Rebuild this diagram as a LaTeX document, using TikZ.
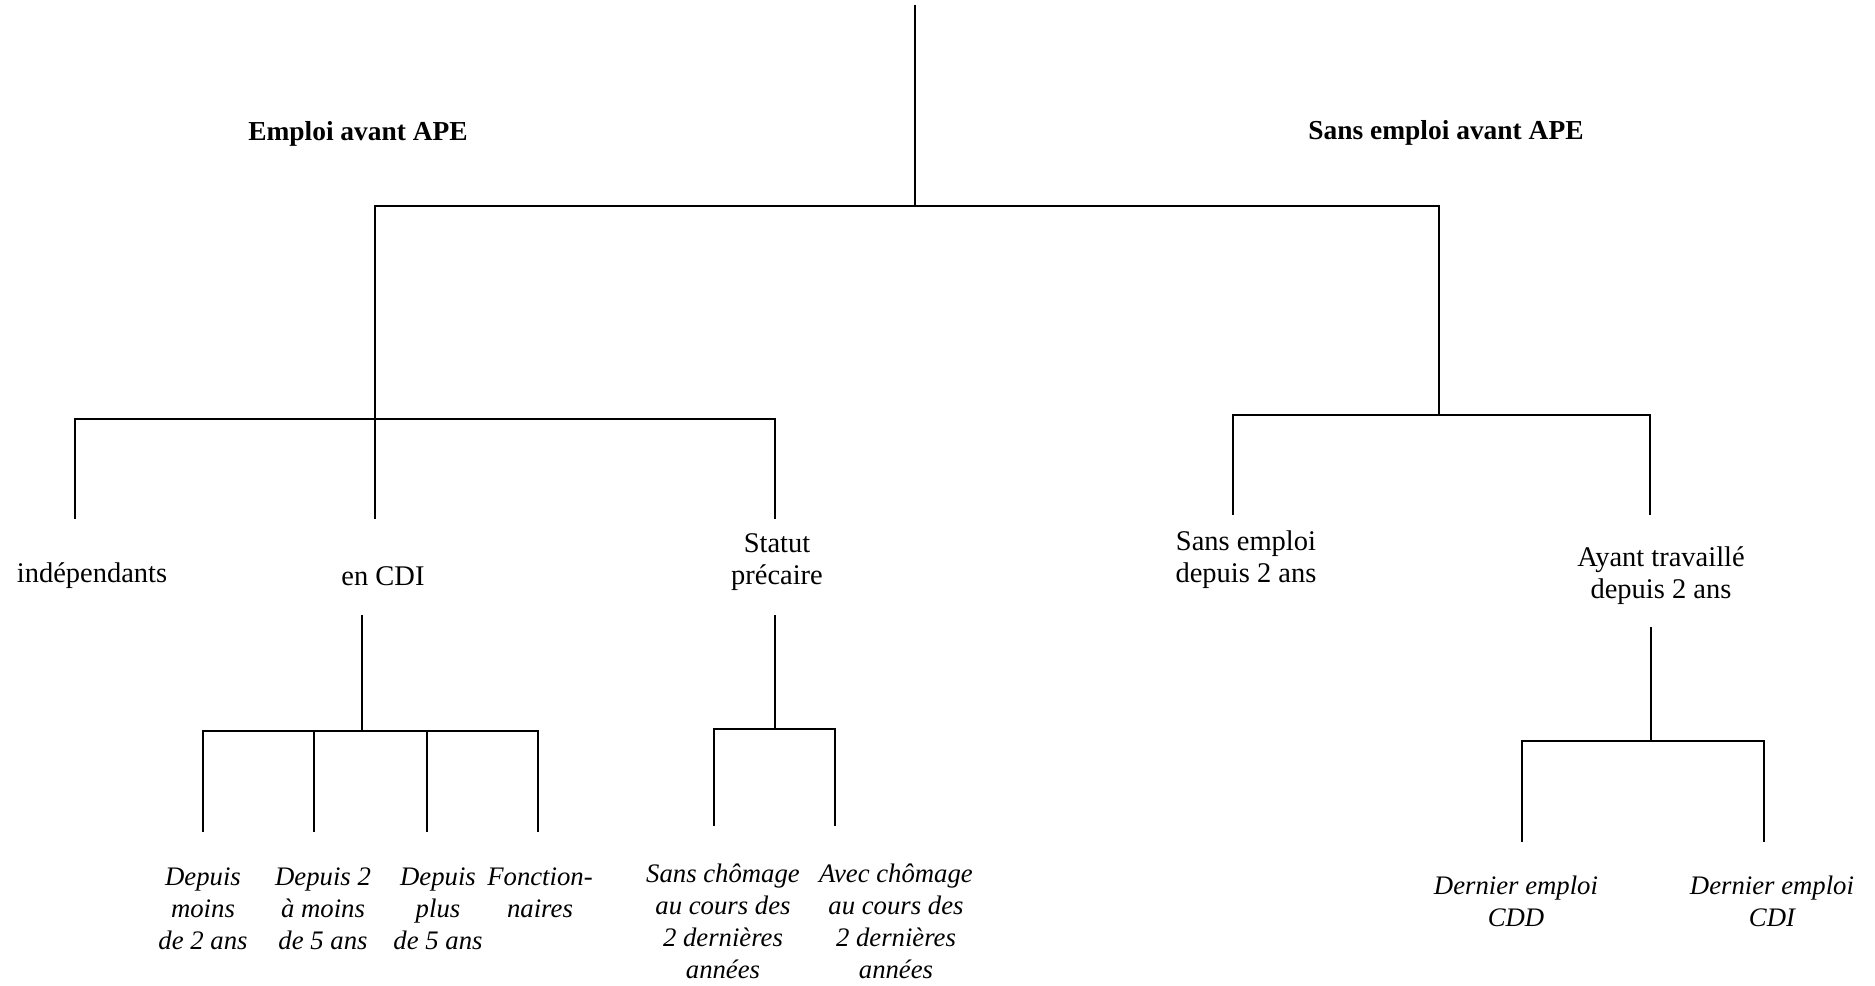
\documentclass[tikz,border=0pt]{standalone}
\usepackage{fontspec}
\setmainfont{Liberation Serif}
\begin{document}
\begin{tikzpicture}[x=0.01cm,y=-0.01cm,
  treeline/.style={line width=0.65pt, line cap=rect},
  lab/.style={align=center, inner sep=0pt, font=\fontsize{8.1}{9.1}\selectfont},
  ilab/.style={align=center, inner sep=0pt, font=\fontsize{7.6}{9.1}\selectfont\itshape},
  blab/.style={align=center, inner sep=0pt, font=\fontsize{7.8}{9.1}\selectfont\bfseries}]
\useasboundingbox (0,0) rectangle (1875,986);
% labels
\node[blab] (emp) at (358,134) {Emploi avant APE};
\node[blab] (sans) at (1446,133) {Sans emploi avant APE};
\node[lab] (ind) at (92,576) {indépendants};
\node[lab] (cdi) at (383,576) {en CDI};
\node[lab] (prec) at (777,562) {Statut\\précaire};
\node[lab] (se2) at (1246,560) {Sans emploi\\depuis 2 ans};
\node[lab] (at2) at (1661,576) {Ayant travaillé\\depuis 2 ans};
\node[ilab] (d1) at (203,909) {Depuis\\moins\\de 2 ans};
\node[ilab] (d2) at (323,909) {Depuis 2\\à moins\\de 5 ans};
\node[ilab] (d3) at (438,909) {Depuis\\plus\\de 5 ans};
\node[ilab] (fo) at (540,893) {Fonction-\\naires};
\node[ilab] (sc) at (723,921) {Sans chômage\\au cours des\\2 dernières\\années};
\node[ilab] (ac) at (896,921) {Avec chômage\\au cours des\\2 dernières\\années};
\node[ilab] (dcdd) at (1516,901) {Dernier emploi\\CDD};
\node[ilab] (dcdi) at (1772,901) {Dernier emploi\\CDI};
% coordinates
\coordinate (root) at (915,6);
\coordinate (j0) at (915,206);
\coordinate (jL) at (375,206);
\coordinate (jR) at (1439,206);
\coordinate (j1) at (375,419);
\coordinate (ind-t) at (75,518);
\coordinate (cdi-t) at (375,518);
\coordinate (prec-t) at (775,518);
\coordinate (jR2) at (1439,415);
\coordinate (se2-t) at (1233,514);
\coordinate (at2-t) at (1650,514);
\coordinate (cdi-b) at (362,616);
\coordinate (j3) at (362,731);
\coordinate (d1-t) at (203,831);
\coordinate (d2-t) at (314,831);
\coordinate (d3-t) at (427,831);
\coordinate (fo-t) at (538,831);
\coordinate (prec-b) at (775,616);
\coordinate (j4) at (775,729);
\coordinate (sc-t) at (714,825);
\coordinate (ac-t) at (835,825);
\coordinate (at2-b) at (1651,628);
\coordinate (j5) at (1651,741);
\coordinate (dcdd-t) at (1522,841);
\coordinate (dcdi-t) at (1764,841);
% lines
\draw[treeline] (root) -- (j0);
\draw[treeline] (jL) -- (jR);
\draw[treeline] (jL) -- (cdi-t);
\draw[treeline] (ind-t) |- (j1) -| (prec-t);
\draw[treeline] (jR) -- (jR2);
\draw[treeline] (se2-t) |- (jR2) -| (at2-t);
\draw[treeline] (cdi-b) -- (j3);
\draw[treeline] (d1-t) |- (j3) -| (fo-t);
\draw[treeline] (d2-t) -- (d2-t |- j3);
\draw[treeline] (d3-t) -- (d3-t |- j3);
\draw[treeline] (prec-b) -- (j4);
\draw[treeline] (sc-t) |- (j4) -| (ac-t);
\draw[treeline] (at2-b) -- (j5);
\draw[treeline] (dcdd-t) |- (j5) -| (dcdi-t);
\end{tikzpicture}
\end{document}
